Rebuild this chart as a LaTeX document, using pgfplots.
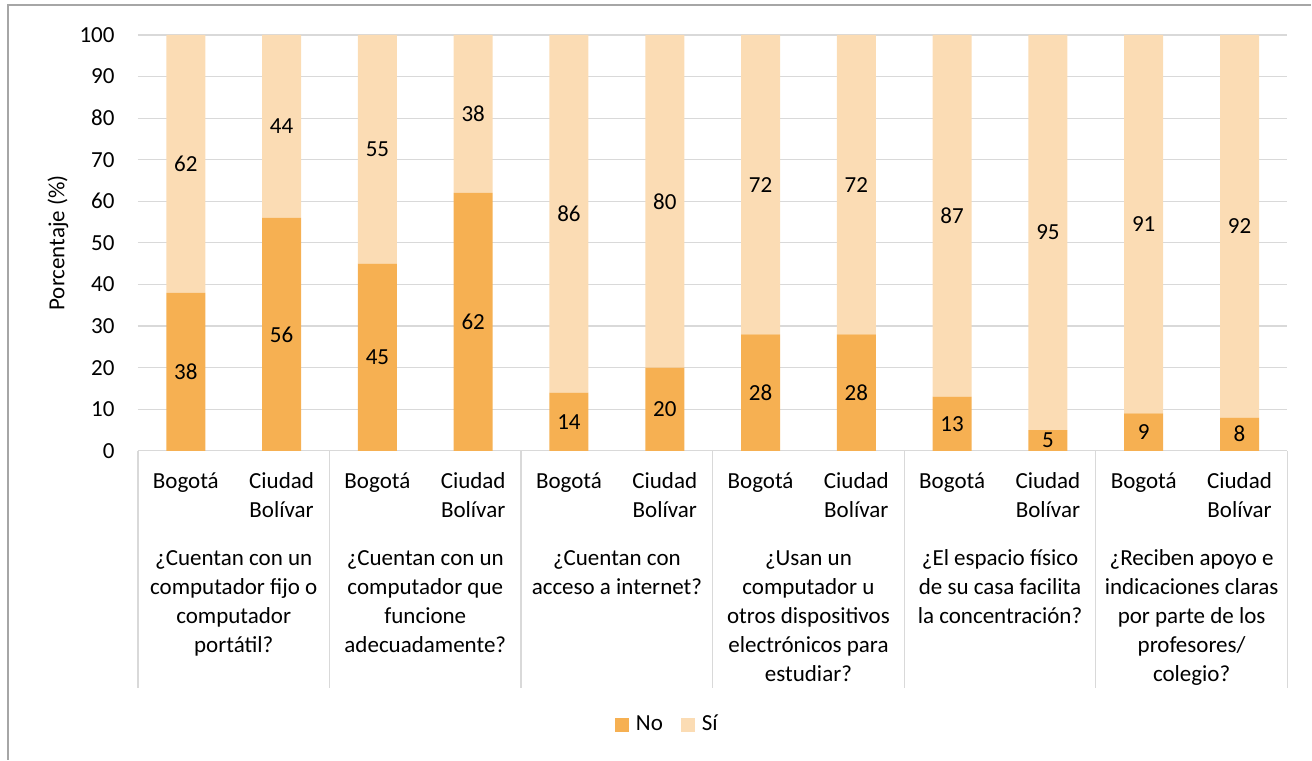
\documentclass[border=0pt]{standalone}
\usepackage{fontspec}
\setmainfont{Carlito}
\usepackage{pgfplots}
\pgfplotsset{compat=1.18}
\usepackage{pgfplotstable}

\definecolor{nocol}{HTML}{F6B052}
\definecolor{sicol}{HTML}{FBDCB4}
\definecolor{gridgray}{HTML}{D9D9D9}
\definecolor{framegray}{HTML}{A6A6A6}

\pgfplotstableread{
x no si
0 38 62
1 56 44
2 45 55
3 62 38
4 14 86
5 20 80
6 28 72
7 28 72
8 13 87
9 5 95
10 9 91
11 8 92
}\datatable

\begin{document}
\fontsize{11.5}{14.5}\selectfont
\begin{tikzpicture}
\begin{axis}[
    at={(0,0)}, anchor=south west,
    scale only axis,
    width=575pt, height=208pt,
    ybar stacked,
    bar width=0.407,
    xmin=-0.5, xmax=11.5,
    ymin=0, ymax=100,
    ytick distance=10,
    xtick={0,...,11},
    xticklabels={\strut Bogotá,{\strut Ciudad\\Bolívar},\strut Bogotá,{\strut Ciudad\\Bolívar},
                 \strut Bogotá,{\strut Ciudad\\Bolívar},\strut Bogotá,{\strut Ciudad\\Bolívar},
                 \strut Bogotá,{\strut Ciudad\\Bolívar},\strut Bogotá,{\strut Ciudad\\Bolívar}},
    xticklabel style={align=center, anchor=north, inner sep=0pt, yshift=-8.35pt},
    yticklabel style={anchor=east, inner sep=0pt, xshift=-11.5pt},
    /pgf/number format/assume math mode=true,
    major tick length=0pt,
    tick style={draw=none},
    axis line style={draw=none},
    ymajorgrids,
    grid style={draw=gridgray, line width=0.6pt},
    ylabel={Porcentaje (\%)},
    ylabel style={at={(axis description cs:-0.0696,0.5)}, anchor=center},
    clip=false,
    nodes near coords,
    every node near coord/.append style={anchor=center, text=black},
    legend style={at={(0.461,-0.659)}, anchor=center, draw=none, legend columns=-1,
        /tikz/every odd column/.append style={column sep=2pt},
        /tikz/every even column/.append style={column sep=7.5pt},
        nodes={inner sep=1.5pt}},
    legend image code/.code={\fill[#1] (0pt,-3.5pt) rectangle (7pt,3.5pt);},
]
\addplot[fill=nocol, draw=none] table[x=x, y=no] {\datatable};
\addplot[fill=sicol, draw=none] table[x=x, y=si] {\datatable};
\legend{No, Sí}

% category table separators
\pgfplotsinvokeforeach{-0.5,1.5,3.5,5.5,7.5,9.5,11.5}{
    \draw[gridgray, line width=0.6pt] (axis cs:#1,0) -- ([yshift=-118.5pt]axis cs:#1,0);
}
% group labels
\path[every node/.style={align=center, anchor=north, inner sep=0pt}]
    ([yshift=-46.85pt]axis cs:0.5,0) node {\strut¿Cuentan con un\\computador fijo o\\computador\\portátil?}
    ([yshift=-46.85pt]axis cs:2.5,0) node {\strut¿Cuentan con un\\computador que\\funcione\\adecuadamente?}
    ([yshift=-46.85pt]axis cs:4.5,0) node {\strut¿Cuentan con\\acceso a internet?}
    ([yshift=-46.85pt]axis cs:6.5,0) node {\strut¿Usan un\\computador u\\otros dispositivos\\electrónicos para\\estudiar?}
    ([yshift=-46.85pt]axis cs:8.5,0) node {\strut¿El espacio físico\\de su casa facilita\\la concentración?}
    ([yshift=-46.85pt]axis cs:10.5,0) node {\strut¿Reciben apoyo e\\indicaciones claras\\por parte de los\\profesores/\\colegio?};
\end{axis}
\draw[framegray, line width=0.6pt] (-65pt,-154.5pt) -- (-65pt,223pt) -- (587pt,223pt);
\useasboundingbox (-69pt,-154.5pt) rectangle (587pt,225.5pt);
\end{tikzpicture}
\end{document}
